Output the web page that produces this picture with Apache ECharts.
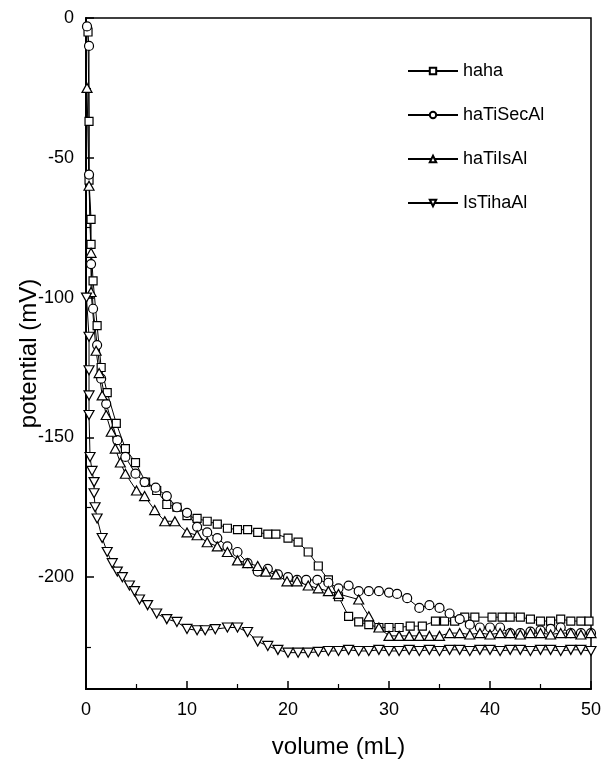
<!DOCTYPE html>
<html>
<head>
<meta charset="utf-8">
<script src="https://cdn.jsdelivr.net/npm/echarts@6/dist/echarts.min.js"></script>
<style>
  html, body { margin: 0; padding: 0; background: #fff; }
  #main { width: 604px; height: 762px; }
</style>
</head>
<body>
<div id="main"></div>
<script>
// volume (mL), potential (mV)
const haha = [
  [0.2,-5],[0.3,-37],[0.3,-58],[0.5,-72],[0.5,-81],[0.7,-94],[1.1,-110],[1.5,-125],[2.1,-134],
  [3.0,-145],[3.9,-154],[4.9,-159],[5.9,-166],[7.0,-169],[8.0,-174],[9.0,-175],[10,-178],
  [11,-179],[12,-180],[13,-181],[14,-182.5],[15,-183],[16,-183],[17,-184],[18,-184.6],
  [18.8,-184.6],[20,-186],[21,-187.5],[22,-191],[23,-196],[24,-201],[25,-207],[26,-214],
  [27,-216],[28,-217],[29,-218],[30,-218],[31,-218],[32.1,-217.5],[33.3,-217.5],[34.6,-215.7],
  [35.5,-215.7],[36.5,-215.7],[37.5,-214.3],[38.5,-214.3],[40.2,-214.3],[41.2,-214.3],[42,-214.3],
  [43,-214.3],[44,-215],[45,-215.7],[46,-215.7],[47,-215],[48,-215.7],[49,-215.7],[49.8,-215.7]
];
const haTiSecAl = [
  [0.1,-3],[0.3,-10],[0.3,-56],[0.5,-88],[0.7,-104],[1.1,-117],[1.5,-129],[2.0,-138],[3.1,-151],
  [3.9,-157],[4.9,-163],[5.8,-166],[6.9,-168],[8,-171],[9,-175],[10,-177],[11,-182],[12,-184],
  [13,-186],[14,-189],[15,-191],[16,-195],[17,-198],[18,-197],[19,-199],[20,-200],[20.9,-201],
  [21.8,-201],[22.9,-201],[24,-202],[25,-204],[26,-203],[27,-205],[28,-205],[29,-205],[30,-205.5],
  [30.8,-206],[31.8,-207.5],[33,-211],[34,-210],[35,-211],[36,-213],[37,-215],[38,-217],[39,-218],
  [40,-218],[41,-218],[42,-220],[43,-220],[44,-219.5],[45,-219],[46,-218.5],[47,-218],[48,-220],
  [49,-220],[50,-220]
];
const haTiIsAl = [
  [0.1,-25],[0.3,-60],[0.5,-84],[0.5,-98],[1.0,-119],[1.3,-127],[1.6,-135],[2.0,-142],[2.5,-148],
  [2.9,-154],[3.4,-159],[3.9,-163],[5,-169],[5.8,-171],[6.8,-176],[7.8,-180],[8.8,-180],[10,-184],
  [11,-185],[12,-187.5],[13,-189],[14,-191],[15,-194],[16,-195],[17,-196],[17.8,-198],[18.8,-199],
  [19.9,-201.5],[20.9,-201.5],[22,-203],[23,-204],[24,-205],[25,-206],[27,-208],[28,-214],
  [29,-218],[30,-221],[31,-221],[32,-221],[33,-221],[34,-221],[35,-221],[36,-220],[37,-220],
  [38,-220.5],[39,-220],[40,-220.5],[41,-220],[42,-220],[43,-220.5],[44,-220],[45,-220],
  [46,-220.5],[47,-220],[48,-220],[49,-220.5],[50,-220]
];
const IsTihaAl = [
  [0.05,-100],[0.3,-114],[0.3,-126],[0.3,-135],[0.3,-142],[0.4,-157],[0.6,-162],[0.8,-166],
  [0.8,-170],[0.9,-175],[1.1,-179],[1.6,-186],[2.1,-191],[2.6,-195],[3.1,-198],[3.6,-200],
  [4.3,-203],[4.8,-205],[5.3,-208],[6.1,-210],[7,-213],[8,-215],[9,-216],[10,-218.5],[11,-219],
  [11.8,-219],[12.8,-218.6],[14,-218],[15,-218],[16,-219.6],[17,-223],[18,-224.6],[19,-226],
  [20,-227],[21,-227],[22,-227],[23,-226.7],[24,-226.4],[25,-226.4],[26,-226],[27,-226.4],
  [28,-226.4],[29,-226],[30,-226.4],[31,-226.4],[32,-226],[33,-226.4],[34,-226],[35,-226.4],
  [36,-226],[37,-226],[38,-226.4],[39,-226],[40,-226],[41,-226.4],[42,-226],[43,-226],
  [44,-226.4],[45,-226],[46,-226],[47,-226.4],[48,-226],[49,-226],[50,-226.4]
];
const yLabels = [0, -50, -100, -150, -200];
const yMinor = [-25, -75, -125, -175, -225];

const font = "'Liberation Sans', Arial, sans-serif";
const myChart = echarts.init(document.getElementById('main'));

const mkSeries = (name, data, symbol, size) => ({
  name: name,
  type: 'line',
  data: data,
  symbol: symbol,
  symbolSize: size,
  showSymbol: true,
  lineStyle: { color: '#000', width: 1 },
  itemStyle: { color: '#fff', borderColor: '#000', borderWidth: 1.2 },
  emphasis: { disabled: true },
  animation: false
});

const option = {
  backgroundColor: '#fff',
  grid: {
    left: 86, right: 13, top: 18, bottom: 73,
    outerBoundsMode: 'none',
    show: true, borderColor: '#000', borderWidth: 1.5
  },
  legend: {
    orient: 'vertical',
    left: 402,
    top: 57,
    itemWidth: 50,
    itemHeight: 8,
    itemGap: 26,
    textStyle: { fontFamily: font, fontSize: 18, color: '#000' },
    data: ['haha', 'haTiSecAl', 'haTiIsAl', 'IsTihaAl']
  },
  xAxis: {
    type: 'value',
    min: 0, max: 50, interval: 10,
    name: 'volume (mL)',
    nameLocation: 'middle',
    nameGap: 46,
    nameMoveOverlap: false,
    nameTextStyle: { fontFamily: font, fontSize: 24, color: '#000' },
    axisLine: { onZero: false, lineStyle: { color: '#000', width: 2 } },
    axisTick: { inside: true, length: 8, lineStyle: { color: '#000', width: 1.5 } },
    minorTick: { show: true, splitNumber: 2, length: 5, lineStyle: { color: '#000', width: 1.2 } },
    axisLabel: { fontFamily: font, fontSize: 18, color: '#000', margin: 12 },
    splitLine: { show: false }
  },
  yAxis: [{
    type: 'value',
    min: -240, max: 0,
    name: 'potential (mV)',
    nameLocation: 'middle',
    nameGap: 45,
    nameMoveOverlap: false,
    nameTextStyle: { fontFamily: font, fontSize: 24, color: '#000' },
    axisLine: { show: true, onZero: false, lineStyle: { color: '#000', width: 2 } },
    axisTick: { inside: true, length: 8, customValues: yLabels, lineStyle: { color: '#000', width: 1.5 } },
    axisLabel: { fontFamily: font, fontSize: 18, color: '#000', margin: 12, customValues: yLabels },
    splitLine: { show: false }
  }, {
    type: 'value',
    min: -240, max: 0,
    position: 'left',
    axisLine: { show: false, onZero: false },
    axisTick: { show: true, inside: true, length: 5, customValues: yMinor, lineStyle: { color: '#000', width: 1.2 } },
    axisLabel: { show: false },
    splitLine: { show: false }
  }],
  series: [
    mkSeries('haha', haha, 'rect', 8),
    mkSeries('haTiSecAl', haTiSecAl, 'circle', 9),
    mkSeries('haTiIsAl', haTiIsAl, 'triangle', [10, 9]),
    mkSeries('IsTihaAl', IsTihaAl, 'path://M0,0 L10,0 L5,9 Z', [10, 9])
  ]
};
myChart.setOption(option);
</script>
</body>
</html>
